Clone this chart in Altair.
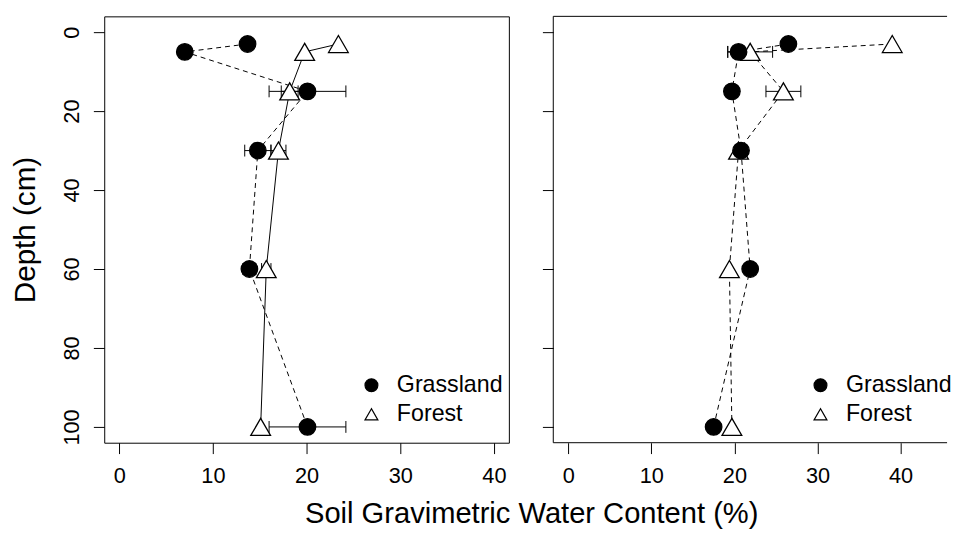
import altair as alt
import pandas as pd

# ---------------- data ----------------
depth = [3, 5, 15, 30, 60, 100]
series_names = ["Grassland", "Forest"]

left_grassland = [13.7, 7.0, 20.1, 14.8, 13.9, 20.1]
left_grassland_err = [0.0, 0.0, 4.1, 1.4, 0.7, 4.1]
left_forest = [23.4, 19.8, 18.2, 17.0, 15.7, 15.1]
left_forest_err = [0.0, 0.0, 0.9, 0.8, 0.5, 0.0]

right_grassland = [26.5, 20.5, 19.7, 20.8, 21.9, 17.5]
right_grassland_err = [0.0, 1.3, 0.0, 0.0, 0.0, 0.0]
right_forest = [39.0, 21.9, 25.9, 20.5, 19.4, 19.7]
right_forest_err = [0.0, 2.7, 2.1, 0.0, 0.0, 0.0]

x_ticks = [0, 10, 20, 30, 40]
y_ticks = [0, 20, 40, 60, 80, 100]

FONT = "Liberation Sans"
H = 432


def make_frame(g, ge, f, fe):
    rows = []
    # Forest first so that Grassland circles are drawn on top
    for name, vals, errs in (("Forest", f, fe), ("Grassland", g, ge)):
        for d, v, e in zip(depth, vals, errs):
            rows.append({"depth": d, "value": v, "err": e,
                         "lo": v - e, "hi": v + e, "series": name})
    return pd.DataFrame(rows)


def panel(df, xdomain, width, forest_dashed, first):
    base = alt.Chart(df)
    xs = alt.Scale(domain=xdomain, nice=False, zero=False)
    ys = alt.Scale(domain=[-4, 104], nice=False, zero=False, reverse=True)
    xaxis = alt.Axis(values=x_ticks, tickSize=11, labelPadding=12, labelFontSize=22,
                     labelFont=FONT, labelColor="black", tickColor="black",
                     domain=False, grid=False, format="d")
    if first:
        yaxis = alt.Axis(values=y_ticks, tickSize=11, labelPadding=14.7, labelFontSize=22,
                         labelFont=FONT, labelColor="black", tickColor="black",
                         labelAngle=-90, labelAlign="center", labelBaseline="alphabetic",
                         domain=False, grid=False, format="d",
                         title="Depth (cm)", titleFont=FONT, titleFontSize=30,
                         titleFontWeight="normal", titleColor="black", titlePadding=20.5)
    else:
        yaxis = alt.Axis(values=y_ticks, tickSize=11, labels=False, tickColor="black",
                         domain=False, grid=False, title=None)
    X = alt.X("value:Q", scale=xs, axis=xaxis, title=None)
    Y = alt.Y("depth:Q", scale=ys, axis=yaxis)
    XLO = alt.X("lo:Q", scale=xs, axis=xaxis, title=None)
    XHI = alt.X("hi:Q", scale=xs, axis=xaxis, title=None)

    errs = base.transform_filter(alt.datum.err > 0)
    bar = errs.mark_rule(color="black", strokeWidth=1).encode(x=XLO, x2="hi:Q", y=Y)
    cap_lo = errs.mark_point(shape="M0,-1L0,1", size=144, stroke="black",
                             strokeWidth=1, opacity=1).encode(x=XLO, y=Y)
    cap_hi = errs.mark_point(shape="M0,-1L0,1", size=144, stroke="black",
                             strokeWidth=1, opacity=1).encode(x=XHI, y=Y)

    gline = base.transform_filter(alt.datum.series == "Grassland").mark_line(
        color="black", strokeWidth=1, strokeDash=[5, 4]).encode(
        x=X, y=Y, order="depth:Q")
    if forest_dashed:
        fline = base.transform_filter(alt.datum.series == "Forest").mark_line(
            color="black", strokeWidth=1, strokeDash=[5, 4]).encode(
            x=X, y=Y, order="depth:Q")
    else:
        fline = base.transform_filter(alt.datum.series == "Forest").mark_line(
            color="black", strokeWidth=1).encode(x=X, y=Y, order="depth:Q")

    leg = alt.Legend(orient="none", legendX=259, legendY=362, title=None,
                     labelFontSize=23.5, labelFont=FONT, labelColor="black",
                     symbolSize=170, symbolStrokeColor="black", symbolStrokeWidth=1.2,
                     labelOffset=14, rowPadding=4.5, padding=0)
    SH = alt.Shape("series:N", scale=alt.Scale(domain=series_names,
                                               range=["circle", "triangle-up"]),
                   legend=leg)
    FI = alt.Fill("series:N", scale=alt.Scale(domain=series_names,
                                              range=["black", "white"]),
                  legend=leg)
    ST = alt.Stroke("series:N", scale=alt.Scale(domain=series_names,
                                                range=["black", "black"]),
                    legend=leg)
    tri = base.transform_filter(alt.datum.series == "Forest").mark_point(
        filled=True, strokeWidth=1.3, opacity=1, size=400).encode(
        x=X, y=Y, shape=SH, fill=FI, stroke=ST)
    circ = base.transform_filter(alt.datum.series == "Grassland").mark_point(
        filled=True, strokeWidth=1.3, opacity=1, size=280).encode(
        x=X, y=Y, shape=SH, fill=FI, stroke=ST)

    layers = [bar, cap_lo, cap_hi, fline, gline, tri, circ]
    if not first:
        fr = alt.Chart(pd.DataFrame({"k": [0]}))
        layers += [
            fr.mark_rule(color="black", strokeWidth=1).encode(
                x=alt.value(0), y=alt.value(0), y2=alt.value(H)),
            fr.mark_rule(color="black", strokeWidth=1).encode(
                x=alt.value(0), x2=alt.value(width), y=alt.value(0)),
            fr.mark_rule(color="black", strokeWidth=1).encode(
                x=alt.value(0), x2=alt.value(width), y=alt.value(H)),
        ]
    ch = alt.layer(*layers).properties(width=width, height=H)
    if first:
        ch = ch.properties(view=alt.ViewBackground(stroke="black", strokeWidth=1))
    else:
        ch = ch.properties(view=alt.ViewBackground(stroke=None))
    return ch


left = panel(make_frame(left_grassland, left_grassland_err, left_forest, left_forest_err),
             [-1.6, 41.6], 410, False, True)
right = panel(make_frame(right_grassland, right_grassland_err, right_forest, right_forest_err),
              [-1.8, 45.6], 399, True, False)

chart = alt.hconcat(left, right, spacing=45, bounds="flush").resolve_scale(
    x="independent", shape="independent", fill="independent", stroke="independent"
).resolve_legend(shape="independent", fill="independent", stroke="independent").properties(
    padding={"left": 2.5, "top": 4, "right": 0, "bottom": 0},
    title=alt.TitleParams("Soil Gravimetric Water Content (%)", orient="bottom",
                          anchor="middle", frame="bounds", fontSize=29.5, font=FONT,
                          fontWeight="normal", color="black", offset=14, dx=51),
).configure(background="white").configure_view(stroke=None)

chart.save("out.html", embed_options={"renderer": "svg", "actions": False})
